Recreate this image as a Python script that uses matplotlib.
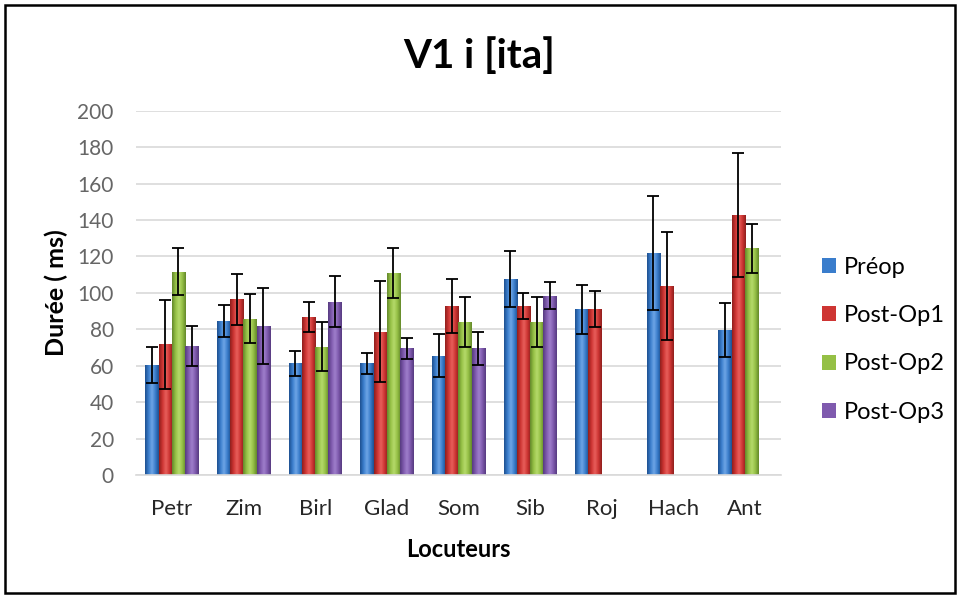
import numpy as np
import matplotlib
matplotlib.use("Agg")
import matplotlib.pyplot as plt
from matplotlib.colors import LinearSegmentedColormap
from matplotlib.patches import Rectangle

plt.rcParams['font.family'] = ['Lato', 'DejaVu Sans']

categories = ["Petr", "Zim", "Birl", "Glad", "Som", "Sib", "Roj", "Hach", "Ant"]
series_names = ["Préop", "Post-Op1", "Post-Op2", "Post-Op3"]

preop = [60.5, 84.5, 61.3, 61.3, 65.5, 107.6, 91.0, 121.7, 79.6]
postop1 = [71.7, 96.4, 86.7, 78.7, 92.8, 92.8, 91.0, 103.9, 142.7]
postop2 = [111.6, 85.8, 70.4, 110.7, 83.8, 83.8, np.nan, np.nan, 124.4]
postop3 = [71.0, 81.8, 95.2, 69.5, 69.5, 98.5, np.nan, np.nan, np.nan]

preop_err = [10.0, 9.0, 6.7, 5.7, 11.9, 15.4, 13.4, 31.3, 14.8]
postop1_err = [24.5, 14.0, 8.4, 27.7, 15.0, 7.3, 10.0, 29.7, 33.8]
postop2_err = [13.0, 13.4, 13.5, 13.8, 13.7, 13.7, np.nan, np.nan, 13.5]
postop3_err = [11.0, 21.0, 14.2, 5.6, 9.0, 7.5, np.nan, np.nan, np.nan]

values = [preop, postop1, postop2, postop3]
errors = [preop_err, postop1_err, postop2_err, postop3_err]

base_colors = ["#3A7DCC", "#CE3533", "#95C045", "#7F5AAE"]
dark_colors = ["#1D4F8E", "#8E1E1C", "#62872A", "#553A7E"]
light_colors = ["#6FA6E6", "#E8605C", "#B6DA6C", "#A080CC"]

fig = plt.figure(figsize=(9.58, 5.95), dpi=100)
ax = fig.add_axes([0.142, 0.2017, 0.673, 0.6123])

x = np.arange(len(categories))
bw = 0.185
for i, (vals, errs) in enumerate(zip(values, errors)):
    pos = x + (i - 1.5) * bw
    bars = ax.bar(pos, vals, width=bw, color=base_colors[i], label=series_names[i], zorder=2)
    cmap = LinearSegmentedColormap.from_list("g%d" % i,
        [dark_colors[i], base_colors[i], light_colors[i], base_colors[i], dark_colors[i]])
    grad = np.linspace(0, 1, 64).reshape(1, -1)
    for b in bars:
        h = b.get_height()
        if not np.isfinite(h):
            continue
        bx = b.get_x()
        w = b.get_width()
        im = ax.imshow(grad, extent=[bx, bx + w, 0, h], aspect='auto', cmap=cmap,
                       zorder=2.1, interpolation='bicubic')
        im.set_clip_path(b)
    ax.errorbar(pos, vals, yerr=errs, fmt='none', ecolor='black', elinewidth=1.3,
                capsize=4.5, capthick=1.3, zorder=3)

ax.set_xlim(-0.5, len(categories) - 0.5)
ax.set_ylim(0, 200)
ax.set_yticks(np.arange(0, 201, 20))
ax.set_xticks(x)
ax.set_xticklabels(categories, fontsize=16, color="#262626")
ax.tick_params(axis='y', labelsize=15, labelcolor="#666666", length=0, pad=16)
ax.tick_params(axis='x', length=0, pad=17)
ax.grid(axis='y', color="#D9D9D9", linewidth=1.2, zorder=0)
ax.set_axisbelow(True)
for s in ["top", "right", "left"]:
    ax.spines[s].set_visible(False)
ax.spines["bottom"].set_color("#D9D9D9")
ax.spines["bottom"].set_linewidth(1.2)

ax.set_ylabel("Durée ( ms)", fontsize=18, fontweight='bold', labelpad=7)
ax.set_xlabel("Locuteurs", fontsize=17, fontweight='bold', labelpad=14)
fig.text(0.5, 0.905, "V1 i [ita]", ha='center', va='center', fontsize=29, fontweight='bold')

handles, labels = ax.get_legend_handles_labels()
leg = fig.legend(handles, labels, loc='center left', bbox_to_anchor=(0.836, 0.429),
                 frameon=False, fontsize=17, handlelength=0.6, handleheight=0.6,
                 handletextpad=0.3, labelspacing=1.16)

fig.patches.append(Rectangle((5 / 958, 2 / 595), 950 / 958, 588 / 595, transform=fig.transFigure,
                             fill=False, edgecolor='black', linewidth=1.8))

fig.savefig("out.png", dpi=100)
